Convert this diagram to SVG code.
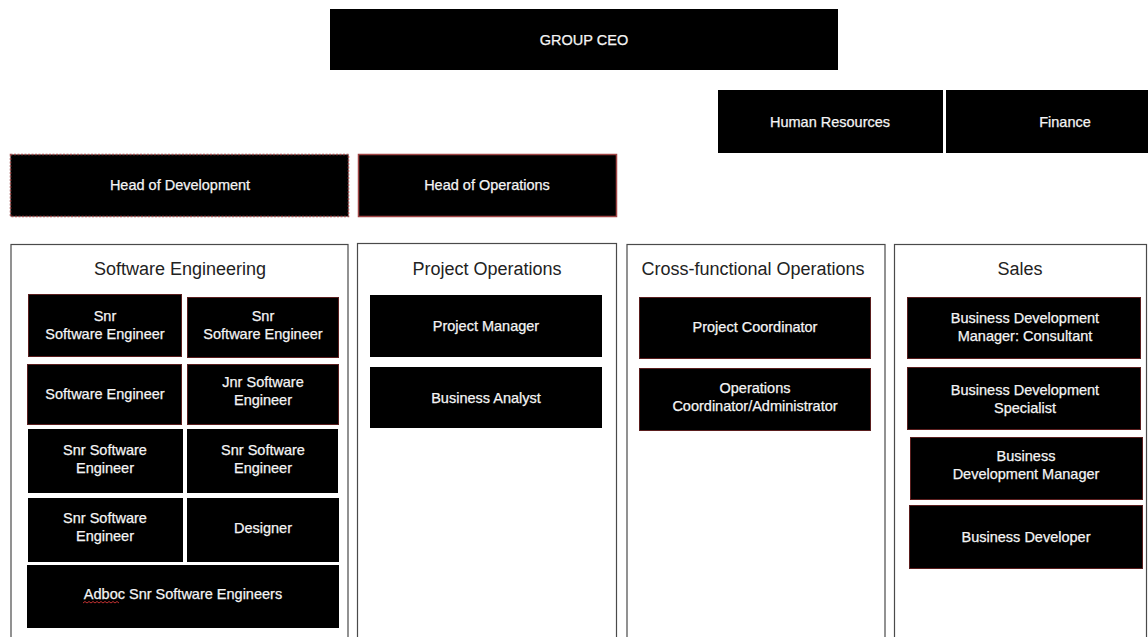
<svg xmlns="http://www.w3.org/2000/svg" width="1148" height="637" viewBox="0 0 1148 637">
<style>
.b{fill:#000;stroke:#5a1e1e;stroke-width:1}
.bp{fill:#000;stroke:none}
.t{font-family:"Liberation Sans",Arial,sans-serif;font-size:14.5px;fill:#f4f4f4;stroke:#f4f4f4;stroke-width:0.25;text-anchor:middle}
.col{fill:#fff;stroke:#4a4a4a;stroke-width:1.2}
.h{font-family:"Liberation Sans",Arial,sans-serif;font-size:18px;fill:#222;text-anchor:middle}
</style>
<rect width="1148" height="637" fill="#fff"/>
<g id="ceo"><rect class="bp" x="330" y="9" width="508" height="61"/><text class="t" x="584" y="45">GROUP CEO</text></g>
<g id="hr"><rect class="bp" x="718" y="90" width="225" height="63"/><text class="t" x="830" y="126.5">Human Resources</text></g>
<g id="finance"><rect class="bp" x="946" y="90" width="202" height="63"/><text class="t" x="1065" y="126.5">Finance</text></g>
<g id="head-dev"><rect x="10.5" y="154.5" width="338" height="62" fill="#000" stroke="#a05050" stroke-width="1.5" stroke-dasharray="2 1.5"/><text class="t" x="180" y="190">Head of Development</text></g>
<g id="head-ops"><rect x="358.5" y="154.5" width="258" height="62" fill="#000" stroke="#a04545" stroke-width="1.5"/><text class="t" x="487" y="190">Head of Operations</text></g>

<g id="col-se"><rect class="col" x="11" y="244.5" width="337" height="400"/><text class="h" x="180" y="275">Software Engineering</text></g>
<g id="col-po"><rect class="col" x="357.5" y="243.5" width="259" height="400"/><text class="h" x="487" y="275">Project Operations</text></g>
<g id="col-cf"><rect class="col" x="627" y="244.5" width="258" height="400"/><text class="h" x="753" y="275">Cross-functional Operations</text></g>
<g id="col-sales"><rect class="col" x="894.5" y="244.5" width="252" height="400"/><text class="h" x="1020" y="275">Sales</text></g>

<g id="se1"><rect class="b" x="28.5" y="294.5" width="153" height="62"/><text class="t" x="105" y="321">Snr</text><text class="t" x="105" y="339">Software Engineer</text></g>
<g id="se2"><rect class="b" x="187.5" y="297.5" width="151" height="60"/><text class="t" x="263" y="321">Snr</text><text class="t" x="263" y="339">Software Engineer</text></g>
<g id="se3"><rect class="b" x="27.5" y="364.5" width="154" height="60"/><text class="t" x="105" y="399">Software Engineer</text></g>
<g id="se4"><rect class="b" x="187.5" y="364.5" width="151" height="60"/><text class="t" x="263" y="387">Jnr Software</text><text class="t" x="263" y="405">Engineer</text></g>
<g id="se5"><rect class="bp" x="28" y="429" width="155" height="64"/><text class="t" x="105" y="455">Snr Software</text><text class="t" x="105" y="473">Engineer</text></g>
<g id="se6"><rect class="bp" x="187" y="429" width="151" height="64"/><text class="t" x="263" y="455">Snr Software</text><text class="t" x="263" y="473">Engineer</text></g>
<g id="se7"><rect class="bp" x="28" y="498" width="155" height="64"/><text class="t" x="105" y="523">Snr Software</text><text class="t" x="105" y="541">Engineer</text></g>
<g id="se8"><rect class="bp" x="187" y="498" width="152" height="64"/><text class="t" x="263" y="533">Designer</text></g>
<g id="se9"><rect class="bp" x="27" y="565" width="312" height="63"/><text class="t" x="183" y="599">Adboc Snr Software Engineers</text><path d="M83 603 l2 -1.5 l2 1.5 l2 -1.5 l2 1.5 l2 -1.5 l2 1.5 l2 -1.5 l2 1.5 l2 -1.5 l2 1.5 l2 -1.5 l2 1.5 l2 -1.5 l2 1.5 l2 -1.5 l2 1.5 l2 -1.5 l2 1.5" fill="none" stroke="#c03030" stroke-width="1"/></g>

<g id="po1"><rect class="bp" x="370" y="295" width="232" height="62"/><text class="t" x="486" y="331">Project Manager</text></g>
<g id="po2"><rect class="bp" x="370" y="367" width="232" height="61"/><text class="t" x="486" y="403">Business Analyst</text></g>

<g id="cf1"><rect class="b" x="639.5" y="297.5" width="231" height="61"/><text class="t" x="755" y="332">Project Coordinator</text></g>
<g id="cf2"><rect class="b" x="639.5" y="368.5" width="231" height="62"/><text class="t" x="755" y="393">Operations</text><text class="t" x="755" y="411">Coordinator/Administrator</text></g>

<g id="s1"><rect class="b" x="907.5" y="297.5" width="233" height="61"/><text class="t" x="1025" y="323">Business Development</text><text class="t" x="1025" y="341">Manager: Consultant</text></g>
<g id="s2"><rect class="b" x="907.5" y="367.5" width="233" height="62"/><text class="t" x="1025" y="395">Business Development</text><text class="t" x="1025" y="413">Specialist</text></g>
<g id="s3"><rect class="b" x="910.5" y="437.5" width="232" height="62"/><text class="t" x="1026" y="461">Business</text><text class="t" x="1026" y="479">Development Manager</text></g>
<g id="s4"><rect class="b" x="909.5" y="505.5" width="233" height="63"/><text class="t" x="1026" y="542">Business Developer</text></g>

<g id="connectors"></g>
</svg>
